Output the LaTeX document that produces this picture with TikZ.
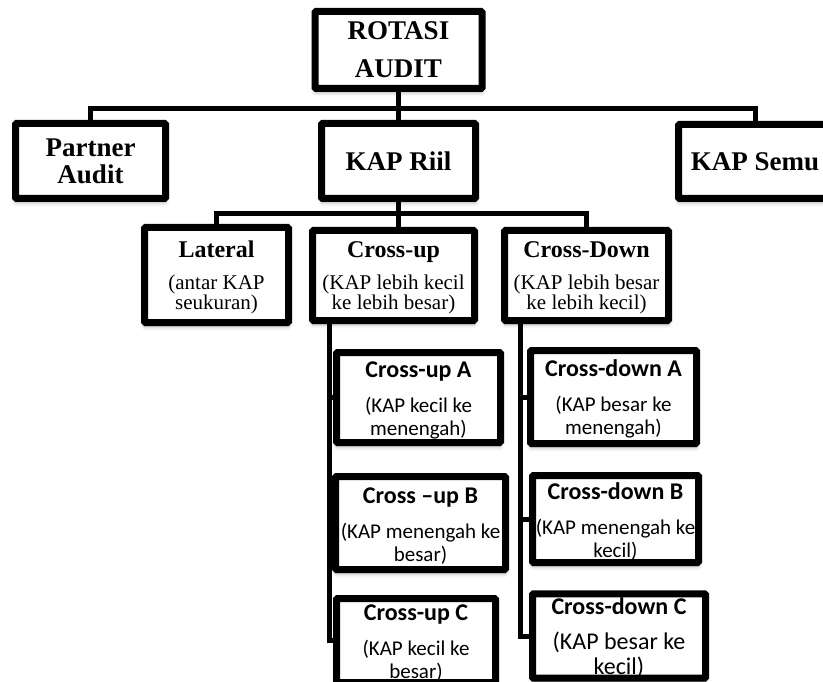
\documentclass[tikz,border=0pt]{standalone}
\usepackage{fontspec}
\setmainfont{Liberation Serif}
\newfontfamily\carlito{Carlito}
\usetikzlibrary{shadows.blur}
\lineskiplimit=-100pt
% bold headings inside the boxes (the strut sets the space above the heading)
\newcommand\boxtitle[1]{{\fontsize{24}{24}\selectfont\bfseries\rule{0pt}{21pt}#1}}
\newcommand\subtitle[1]{{\fontsize{24}{24}\selectfont\bfseries\rule{0pt}{21pt}#1}}

\begin{document}
\begin{tikzpicture}[x=1pt,y=-1pt,
  box/.style={draw=black, line width=7pt, fill=white, rounded corners=1pt,
    inner sep=0pt, align=center,
    blur shadow={shadow xshift=0pt, shadow yshift=-4pt,
      shadow blur radius=4pt, shadow opacity=35}},
  lvl1/.style={box, font=\fontsize{27}{27}\selectfont\bfseries},
  lvl2/.style={box, font=\fontsize{21}{20}\selectfont},
  lvl3/.style={box, font=\carlito\fontsize{21}{23}\selectfont},
  conn/.style={draw=black, line width=5pt}]
\useasboundingbox (0,0) rectangle (823,682);
\clip (0,0) rectangle (823,682);

% top level
\node[lvl1, minimum width=167pt, minimum height=77pt] (root) at (398.5,50) {ROTASI\\[11pt]AUDIT};

% first level
\node[lvl1, minimum width=150pt, minimum height=75pt] (partner) at (90.5,161) {Partner\\Audit};
\node[lvl1, minimum width=154pt, minimum height=75pt] (riil) at (398.5,161) {KAP Riil};
\node[lvl1, minimum width=153pt, minimum height=74pt] (semu) at (755,161.5) {KAP Semu};

% second level
\node[lvl2, minimum width=144pt, minimum height=95pt] (lateral) at (216.5,275)
  {\boxtitle{Lateral}\\[12pt](antar KAP\\seukuran)};
\node[lvl2, minimum width=162pt, minimum height=90pt] (crossup) at (393.5,275.5)
  {\boxtitle{Cross-up}\\[12pt](KAP lebih kecil\\ke lebih besar)};
\node[lvl2, minimum width=164pt, minimum height=90pt] (crossdown) at (586.5,275.5)
  {\boxtitle{Cross-Down}\\[12pt](KAP lebih besar\\ke lebih kecil)};

% third level, cross-up branch
\node[lvl3, minimum width=164pt, minimum height=90pt] (cua) at (418.5,397.5)
  {\subtitle{Cross-up A}\\[12pt](KAP kecil ke\\menengah)};
\node[lvl3, minimum width=170pt, minimum height=93pt] (cub) at (420.5,523)
  {\subtitle{Cross –up B}\\[12pt](KAP menengah ke\\besar)};
\node[lvl3, minimum width=159pt, minimum height=84pt] (cuc) at (416,640.5)
  {\subtitle{Cross-up C}\\[12pt](KAP kecil ke\\besar)};

% third level, cross-down branch
\node[lvl3, minimum width=166pt, minimum height=93pt] (cda) at (613.5,397)
  {\subtitle{Cross-down A}\\[12pt](KAP besar ke\\menengah)};
\node[lvl3, minimum width=166pt, minimum height=87pt] (cdb) at (615.5,519)
  {\subtitle{Cross-down B}\\[12pt](KAP menengah ke\\kecil)};
\node[lvl3, minimum width=173pt, minimum height=83pt,
  font=\carlito\fontsize{24}{25}\selectfont] (cdc) at (619,636)
  {\subtitle{Cross-down C}\\[10pt](KAP besar ke\\kecil)};

% connectors
\coordinate (bar1) at (398.5,109);
\coordinate (bar2) at (398.5,214);
\coordinate (upspine) at (329,322);
\coordinate (downspine) at (520,322);

\draw[conn] (root.south) -- (riil.north);
\draw[conn] (partner.north) |- (bar1) -| (semu.north);

\draw[conn] (riil.south) -- (riil.south |- crossup.north);
\draw[conn] (lateral.north) |- (bar2) -| (crossdown.north);

\draw[conn] (upspine) |- (cua.west);
\draw[conn] (upspine) |- (cub.west);
\draw[conn] (upspine) |- (cuc.west);

\draw[conn] (downspine) |- (cda.west);
\draw[conn] (downspine) |- (cdb.west);
\draw[conn] (downspine) |- (cdc.west);
\end{tikzpicture}
\end{document}
